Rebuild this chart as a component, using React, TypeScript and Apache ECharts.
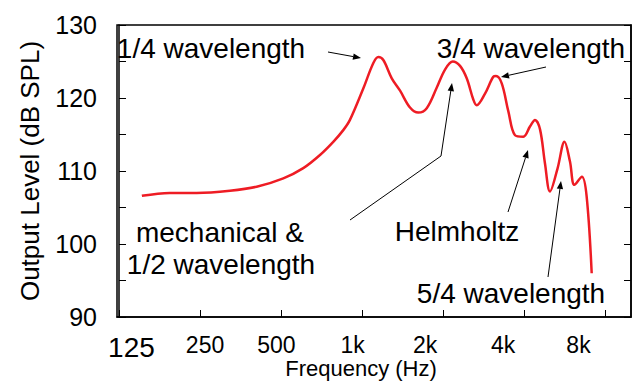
import React, { useEffect, useRef } from "react";
import * as echarts from "echarts";

// ---- data ----
const freqHz = [
  152, 193, 243, 323, 406, 510, 605, 698, 782, 852, 902, 1011, 1102, 1150, 1200,
  1290, 1385, 1508, 1619, 1740, 1895, 2035, 2174, 2314, 2450, 2592, 2668, 2866,
  3076, 3148, 3306, 3497, 3704, 3977, 4210, 4395, 4588, 4788, 4996, 5326, 5657,
  5928, 6160, 6565, 6838, 7139,
];
const levelDb = [
  106.6, 107.0, 107.0, 107.3, 107.85, 109.0, 110.4, 112.2, 114.0, 115.6, 117.0,
  121.3, 124.8, 125.6, 125.2, 122.7, 121.0, 118.7, 118.0, 118.6, 121.4, 123.9,
  125.0, 124.4, 122.7, 119.8, 119.0, 120.6, 122.9, 123.0, 122.0, 118.2, 114.9,
  114.7, 116.1, 117.0, 115.7, 111.0, 107.2, 110.3, 114.0, 111.3, 108.1, 109.2,
  106.5, 96.0,
];
const tickFreqs = [125, 250, 500, 1000, 2000, 4000, 8000];
const tickLabels = ["125", "250", "500", "1k", "2k", "4k", "8k"];
const yMin = 90;
const yMax = 130;

// ---- layout constants ----
const FONT = '"Liberation Sans", Arial, Helvetica, sans-serif';
const REF = 125; // octave reference
const X_MIN = -0.0247;
const X_MAX = 6.321;
const LABEL_POS_OCT = [0.154, 1.062, 1.944, 2.883, 3.778, 4.741, 5.673];

const toOct = (f: number) => Math.log2(f / REF);

function arrowHead(x1: number, y1: number, x2: number, y2: number) {
  const a = Math.atan2(y2 - y1, x2 - x1);
  const len = 8;
  const w = 3.2;
  const bx = x2 - len * Math.cos(a);
  const by = y2 - len * Math.sin(a);
  const px = -Math.sin(a) * w;
  const py = Math.cos(a) * w;
  return {
    base: [bx, by],
    poly: {
      type: "polygon",
      shape: { points: [[x2, y2], [bx + px, by + py], [bx - px, by - py]] },
      style: { fill: "#000" },
      silent: true,
    },
  };
}

function arrow(pts: number[][]) {
  const n = pts.length;
  const [x1, y1] = pts[n - 2];
  const [x2, y2] = pts[n - 1];
  const h = arrowHead(x1, y1, x2, y2);
  const linePts = pts.slice(0, n - 1).concat([h.base]);
  return [
    {
      type: "polyline",
      shape: { points: linePts },
      style: { stroke: "#000", lineWidth: 1, fill: null },
      silent: true,
    },
    h.poly,
  ];
}

function label(text: string, x: number, y: number) {
  return {
    type: "text",
    x,
    y,
    style: {
      text,
      fontSize: 28,
      fontFamily: FONT,
      fill: "#000",
      align: "center",
      verticalAlign: "middle",
      textAlign: "center",
      textVerticalAlign: "middle",
    },
    silent: true,
  };
}

function labelFor(v: number) {
  let best = 0;
  for (let i = 1; i < LABEL_POS_OCT.length; i++) {
    if (Math.abs(LABEL_POS_OCT[i] - v) < Math.abs(LABEL_POS_OCT[best] - v)) best = i;
  }
  return best === 0 ? "{big|" + tickLabels[0] + "}" : tickLabels[best];
}

export default function App() {
  const ref = useRef<HTMLDivElement>(null);
  useEffect(() => {
    document.body.style.margin = "0";
    if (!ref.current) return;
    const chart = echarts.init(ref.current, null, { renderer: "svg" });
    const data = freqHz.map((f, i) => [toOct(f), levelDb[i]]);
    const tickOct = tickFreqs.map(toOct);

    const option: any = {
      animation: false,
      backgroundColor: "#fff",
      grid: {
        left: 117,
        top: 25,
        right: 7,
        bottom: 67,
        containLabel: false,
        outerBoundsMode: "none",
        show: true,
        borderColor: "#000",
        borderWidth: 1.5,
        backgroundColor: "transparent",
      },
      xAxis: {
        type: "value",
        min: X_MIN,
        max: X_MAX,
        name: "Frequency (Hz)",
        nameLocation: "middle",
        nameGap: 40,
        nameMoveOverlap: false,
        nameTextStyle: {
          fontSize: 22,
          fontFamily: FONT,
          color: "#000",
          padding: [0, 26, 0, 0],
        },
        axisLine: { show: true, lineStyle: { color: "#000", width: 1.5 } },
        axisTick: {
          show: true,
          inside: true,
          length: 7,
          customValues: tickOct,
          lineStyle: { color: "#000", width: 1 },
        },
        axisLabel: {
          customValues: LABEL_POS_OCT,
          margin: 16,
          fontSize: 23,
          fontFamily: FONT,
          color: "#000",
          hideOverlap: false,
          formatter: (v: number) => labelFor(v),
          rich: {
            big: { fontSize: 28, fontFamily: FONT, color: "#000" },
          },
        },
        splitLine: { show: false },
      },
      yAxis: [
        {
          type: "value",
          min: yMin,
          max: yMax,
          interval: 5,
          name: "Output Level (dB SPL)",
          nameLocation: "middle",
          nameGap: 74,
          nameMoveOverlap: false,
          nameTextStyle: { fontSize: 26, fontFamily: FONT, color: "#000" },
          axisLine: { show: true, lineStyle: { color: "#000", width: 1.5 } },
          axisTick: {
            show: true,
            inside: true,
            length: 7,
            lineStyle: { color: "#000", width: 1 },
          },
          axisLabel: {
            margin: 20,
            fontSize: 25,
            fontFamily: FONT,
            color: "#000",
            formatter: (v: number) => (v % 10 === 0 ? String(v) : ""),
          },
          splitLine: { show: false },
        },
        {
          type: "value",
          position: "right",
          min: yMin,
          max: yMax,
          interval: 5,
          axisLine: { show: true, lineStyle: { color: "#000", width: 1.5 } },
          axisTick: {
            show: true,
            inside: true,
            length: 7,
            lineStyle: { color: "#000", width: 1 },
          },
          axisLabel: { show: false },
          splitLine: { show: false },
        },
      ],
      series: [
        {
          type: "line",
          data,
          smooth: 0.35,
          showSymbol: false,
          symbol: "none",
          lineStyle: { color: "#ee1c24", width: 2.5 },
        },
      ],
      graphic: [
        label("1/4 wavelength", 211, 48.5),
        label("3/4 wavelength", 531, 48.5),
        label("mechanical &", 220, 232),
        label("1/2 wavelength", 221, 264),
        label("Helmholtz", 457, 231),
        label("5/4 wavelength", 511, 293),
        ...arrow([[328, 52], [361, 58]]),
        ...arrow([[546, 67], [501, 77]]),
        ...arrow([[350, 220], [441, 156], [452, 83]]),
        ...arrow([[508, 212], [528, 150]]),
        ...arrow([[548, 277], [561, 181]]),
      ],
    };
    chart.setOption(option);
    return () => chart.dispose();
  }, []);
  return <div ref={ref} style={{ width: 638, height: 384 }} />;
}
